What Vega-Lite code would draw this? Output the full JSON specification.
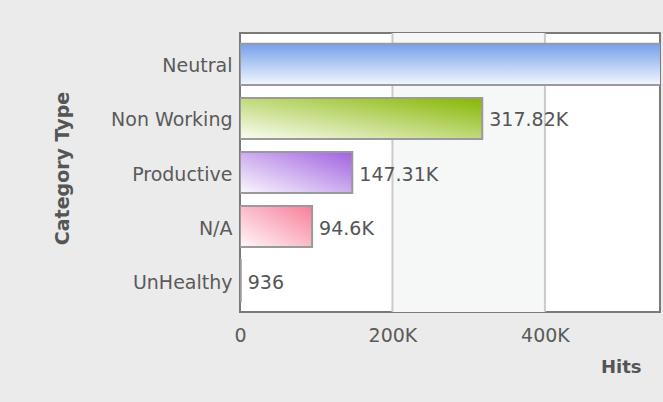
{
  "$schema": "https://vega.github.io/schema/vega-lite/v6.json",
  "autosize": {"type": "none"},
  "width": 420,
  "height": 279,
  "padding": {"left": 240, "top": 33, "right": 3, "bottom": 90},
  "background": "#ebebeb",
  "config": {
    "view": {"fill": "white", "stroke": "#7a7a7a", "strokeWidth": 2},
    "axis": {"labelFont": "DejaVu Sans", "titleFont": "DejaVu Sans", "labelColor": "#5a5a5a", "titleColor": "#555555", "labelFontSize": 19, "titleFontSize": 18, "titleFontWeight": "bold"}
  },
  "datasets": {
    "cats": [
      {"category": "Neutral", "hits": 620000, "label": "620K"},
      {"category": "Non Working", "hits": 317820, "label": "317.82K"},
      {"category": "Productive", "hits": 147310, "label": "147.31K"},
      {"category": "N/A", "hits": 94600, "label": "94.6K"},
      {"category": "UnHealthy", "hits": 936, "label": "936"}
    ],
    "band": [{"start": 200000, "end": 400000}],
    "grid": [{"v": 200000}, {"v": 400000}]
  },
  "layer": [
    {
      "data": {"name": "band"},
      "mark": {"type": "rect", "fill": "#f6f8f8", "clip": true},
      "encoding": {
        "x": {"field": "start", "type": "quantitative", "scale": {"domain": [0, 551000], "nice": false}, "axis": {"values": [0, 200000, 400000], "labelExpr": "datum.value == 0 ? '0' : (datum.value / 1000) + 'K'", "title": "Hits", "grid": false, "ticks": false, "domain": false, "labelFlush": false, "labelPadding": 14, "titleAlign": "right", "titleAnchor": "start", "titleX": 401, "titleY": 55, "titleBaseline": "middle"}},
        "x2": {"field": "end"}
      }
    },
    {
      "data": {"name": "grid"},
      "mark": {"type": "rule", "color": "#cacaca", "strokeWidth": 2},
      "encoding": {
        "x": {"field": "v", "type": "quantitative", "scale": {"domain": [0, 551000], "nice": false}}
      }
    },
    {
      "data": {"name": "cats"},
      "layer": [
        {
          "transform": [{"filter": "datum.category == 'Neutral'"}],
          "mark": {"type": "bar", "clip": true, "stroke": "#9a9a9a", "strokeWidth": 2, "color": {"gradient": "linear", "x1": 0, "y1": 0, "x2": 0, "y2": 1, "stops": [{"offset": 0, "color": "#76a0ec"}, {"offset": 1, "color": "#f2f6fd"}]}},
          "encoding": {
            "y": {"field": "category", "type": "nominal", "sort": ["Neutral", "Non Working", "Productive", "N/A", "UnHealthy"], "scale": {"domain": ["Neutral", "Non Working", "Productive", "N/A", "UnHealthy"], "paddingInner": 0.24, "paddingOuter": 0.2}, "axis": {"title": "Category Type", "ticks": false, "domain": false, "labelPadding": 8, "labelOffset": 2, "titleFontSize": 19, "titleAngle": -90, "titleX": -178, "titleY": 135, "titleAlign": "center", "titleBaseline": "middle"}},
            "x": {"field": "hits", "type": "quantitative", "scale": {"domain": [0, 551000], "nice": false}}
          }
        },
        {
          "transform": [{"filter": "datum.category == 'Non Working'"}],
          "mark": {"type": "bar", "clip": true, "stroke": "#9a9a9a", "strokeWidth": 2, "color": {"gradient": "linear", "x1": 0, "y1": 1, "x2": 1, "y2": 0, "stops": [{"offset": 0, "color": "#fbfdf4"}, {"offset": 1, "color": "#86b600"}]}},
          "encoding": {
            "y": {"field": "category", "type": "nominal"},
            "x": {"field": "hits", "type": "quantitative"}
          }
        },
        {
          "transform": [{"filter": "datum.category == 'Productive'"}],
          "mark": {"type": "bar", "clip": true, "stroke": "#9a9a9a", "strokeWidth": 2, "color": {"gradient": "linear", "x1": 0, "y1": 1, "x2": 1, "y2": 0, "stops": [{"offset": 0, "color": "#fbf8fe"}, {"offset": 1, "color": "#a062e0"}]}},
          "encoding": {
            "y": {"field": "category", "type": "nominal"},
            "x": {"field": "hits", "type": "quantitative"}
          }
        },
        {
          "transform": [{"filter": "datum.category == 'N/A'"}],
          "mark": {"type": "bar", "clip": true, "stroke": "#9a9a9a", "strokeWidth": 2, "color": {"gradient": "linear", "x1": 0, "y1": 1, "x2": 1, "y2": 0, "stops": [{"offset": 0, "color": "#fff8fa"}, {"offset": 1, "color": "#f77f99"}]}},
          "encoding": {
            "y": {"field": "category", "type": "nominal"},
            "x": {"field": "hits", "type": "quantitative"}
          }
        },
        {
          "transform": [{"filter": "datum.category == 'UnHealthy'"}],
          "mark": {"type": "bar", "clip": true, "stroke": "#9a9a9a", "strokeWidth": 2, "color": "#9cc8e8"},
          "encoding": {
            "y": {"field": "category", "type": "nominal"},
            "x": {"field": "hits", "type": "quantitative"}
          }
        },
        {
          "transform": [{"filter": "datum.category != 'Neutral'"}],
          "mark": {"type": "text", "align": "left", "baseline": "middle", "dx": 7, "dy": 2, "font": "DejaVu Sans", "fontSize": 19, "color": "#555555", "clip": true},
          "encoding": {
            "y": {"field": "category", "type": "nominal"},
            "x": {"field": "hits", "type": "quantitative"},
            "text": {"field": "label"}
          }
        }
      ]
    }
  ]
}
